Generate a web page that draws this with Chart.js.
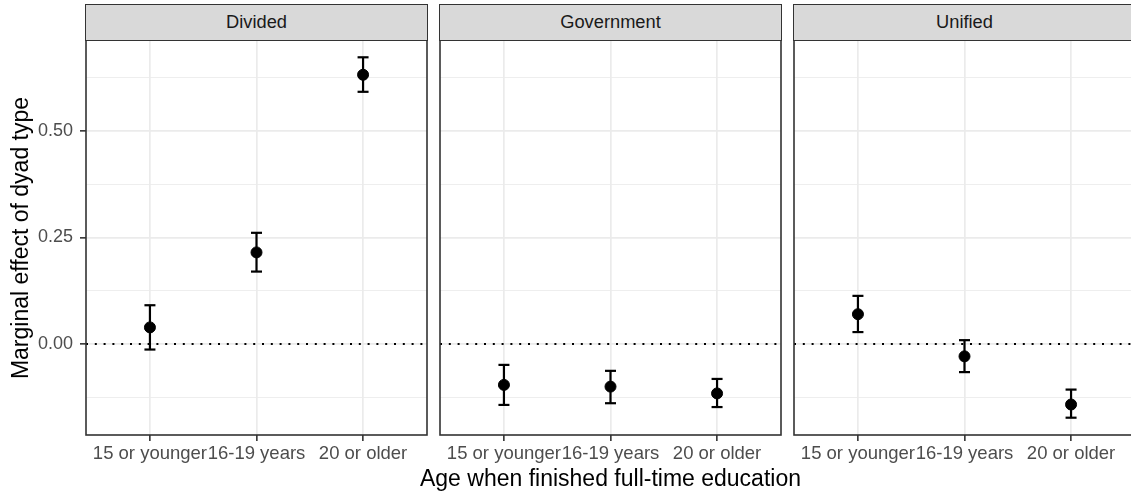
<!DOCTYPE html>
<html>
<head>
<meta charset="utf-8">
<title>Marginal effect of dyad type by education</title>
<script src="https://cdn.jsdelivr.net/npm/chart.js@4/dist/chart.umd.min.js"></script>
<style>
  html, body { margin: 0; padding: 0; background: #ffffff; overflow: hidden; }
  #fig { position: relative; width: 1131px; height: 493px; overflow: hidden; background: #ffffff;
         font-family: "Liberation Sans", Arial, Helvetica, sans-serif; }
  #fig canvas { position: absolute; }
  .strip { position: absolute; box-sizing: border-box; background: #D9D9D9; border: 1.6px solid #333333;
           color: #1A1A1A; font-size: 18.3px; text-align: center; }
  .axis-title { position: absolute; color: #000000; font-size: 23px; line-height: 26px;
                text-align: center; white-space: nowrap; }
</style>
</head>
<body>
<div id="fig"></div>
<script>
// ---- data ----------------------------------------------------------------
const categories = ['15 or younger', '16-19 years', '20 or older'];
const facets = ['Divided', 'Government', 'Unified'];

const dividedEst    = [0.039, 0.215, 0.632];
const dividedLow    = [-0.013, 0.170, 0.592];
const dividedHigh   = [0.091, 0.261, 0.673];

const governmentEst  = [-0.096, -0.100, -0.116];
const governmentLow  = [-0.143, -0.139, -0.148];
const governmentHigh = [-0.049, -0.063, -0.082];

const unifiedEst    = [0.070, -0.029, -0.142];
const unifiedLow    = [0.028, -0.066, -0.173];
const unifiedHigh   = [0.113, 0.009, -0.107];

const yGridValues  = [-0.125, 0, 0.125, 0.25, 0.375, 0.5, 0.625];
const yTickValues  = [0, 0.25, 0.5];
const yTickLabels  = ['0.00', '0.25', '0.50'];
const yLimits      = [-0.2136, 0.7136];
const referenceY   = [0];

const xTitle = 'Age when finished full-time education';
const yTitle = 'Marginal effect of dyad type';

// ---- layout ----------------------------------------------------------------
const FIG_H = 493;
const PANEL_LEFT = [86, 440, 794];
const PANEL_W = 341;
const PANEL_TOP = 40;
const PANEL_BOTTOM = 435;
const STRIP_TOP = 3.5;
const X_LIMITS = [0.4, 0.6 + categories.length];
const FONT = '"Liberation Sans", Arial, Helvetica, sans-serif';

const fig = document.getElementById('fig');

// panel frame drawn over everything, like a ggplot panel border
const panelBorder = {
  id: 'panelBorder',
  afterDraw(chart) {
    const { left, top, right, bottom } = chart.chartArea;
    const ctx = chart.ctx;
    ctx.save();
    ctx.strokeStyle = '#333333';
    ctx.lineWidth = 1.6;
    ctx.strokeRect(left, top, right - left, bottom - top);
    ctx.restore();
  }
};

const isLabelled = v => yTickValues.includes(v);

function errorBarData(low, high) {
  const pts = [];
  categories.forEach((c, k) => {
    pts.push({ x: k + 1, y: low[k] });
    pts.push({ x: k + 1, y: high[k] });
    pts.push({ x: k + 1.5, y: null });   // break between bars
  });
  return pts;
}

function makeFacet(i, est, low, high) {
  const first = i === 0;
  const left = PANEL_LEFT[i];
  const padL = first ? 0 : 2;
  const axisW = first ? left : 0;
  const canvasLeft = first ? 0 : left - 2;
  const cw = axisW + padL + PANEL_W + 2;
  const ch = FIG_H - PANEL_TOP;

  const canvas = document.createElement('canvas');
  canvas.width = cw;
  canvas.height = ch;
  canvas.style.left = canvasLeft + 'px';
  canvas.style.top = PANEL_TOP + 'px';
  canvas.style.width = cw + 'px';
  canvas.style.height = ch + 'px';
  fig.appendChild(canvas);

  // strip header
  const strip = document.createElement('div');
  strip.className = 'strip';
  strip.style.left = (left - 0.8) + 'px';
  strip.style.top = STRIP_TOP + 'px';
  strip.style.width = (PANEL_W + 1.6) + 'px';
  strip.style.height = (PANEL_TOP - STRIP_TOP + 0.8) + 'px';
  strip.style.lineHeight = (PANEL_TOP - STRIP_TOP - 2.4) + 'px';
  strip.textContent = facets[i];
  fig.appendChild(strip);

  new Chart(canvas, {
    type: 'scatter',
    data: {
      datasets: [
        {
          label: facets[i] + ' estimate',
          data: categories.map((c, k) => ({ x: k + 1, y: est[k] })),
          pointRadius: 5.5,
          pointBackgroundColor: '#000000',
          pointBorderColor: '#000000',
          pointBorderWidth: 1,
          order: 0
        },
        {
          label: facets[i] + ' interval',
          data: errorBarData(low, high),
          showLine: true,
          spanGaps: false,
          borderColor: '#000000',
          borderWidth: 2.2,
          pointStyle: 'line',
          pointRadius: 5.5,
          pointBorderColor: '#000000',
          pointBorderWidth: 2.2,
          order: 1
        },
        {
          label: 'reference',
          data: [{ x: X_LIMITS[0], y: referenceY[0] }, { x: X_LIMITS[1], y: referenceY[0] }],
          showLine: true,
          borderColor: '#000000',
          borderWidth: 2,
          borderDash: [2, 6.8],
          pointRadius: 0,
          order: 2
        }
      ]
    },
    options: {
      responsive: false,
      animation: false,
      events: [],
      layout: { autoPadding: false, padding: { left: padL, right: 2, top: 0, bottom: 0 } },
      plugins: { legend: { display: false }, tooltip: { enabled: false } },
      scales: {
        x: {
          type: 'linear',
          min: X_LIMITS[0],
          max: X_LIMITS[1],
          afterBuildTicks: axis => { axis.ticks = categories.map((c, k) => ({ value: k + 1 })); },
          afterFit: axis => {
            axis.height = ch - (PANEL_BOTTOM - PANEL_TOP);
            axis.paddingLeft = 0; axis.paddingRight = 0;
          },
          border: { display: false },
          grid: { color: '#EBEBEB', lineWidth: 1.7, drawTicks: true, tickLength: 6,
                  tickColor: '#333333', tickWidth: 1.6 },
          ticks: {
            autoSkip: false, maxRotation: 0, minRotation: 0, padding: 2,
            color: '#4D4D4D', font: { family: FONT, size: 18.5 },
            callback: (v, idx) => categories[idx]
          }
        },
        y: {
          type: 'linear',
          min: yLimits[0],
          max: yLimits[1],
          afterBuildTicks: axis => { axis.ticks = yGridValues.map(v => ({ value: v })); },
          afterFit: axis => {
            axis.width = axisW;
            axis.paddingTop = 0; axis.paddingBottom = 0;
          },
          border: { display: false },
          grid: {
            color: '#EBEBEB',
            lineWidth: c => (c.tick && isLabelled(c.tick.value)) ? 1.7 : 0.85,
            drawTicks: first,
            tickLength: 6,
            tickWidth: 1.6,
            tickColor: c => (c.tick && isLabelled(c.tick.value)) ? '#333333' : 'rgba(0,0,0,0)'
          },
          ticks: {
            display: first,
            padding: 7,
            color: '#4D4D4D',
            font: { family: FONT, size: 18 },
            callback: v => {
              const k = yTickValues.indexOf(v);
              return k >= 0 ? yTickLabels[k] : '';
            }
          }
        }
      }
    },
    plugins: [panelBorder]
  });
}

makeFacet(0, dividedEst, dividedLow, dividedHigh);
makeFacet(1, governmentEst, governmentLow, governmentHigh);
makeFacet(2, unifiedEst, unifiedLow, unifiedHigh);

// axis titles
const xt = document.createElement('div');
xt.className = 'axis-title';
const panelsCenter = (PANEL_LEFT[0] + PANEL_LEFT[2] + PANEL_W) / 2;
xt.style.width = '600px';
xt.style.left = (panelsCenter - 300) + 'px';
xt.style.top = '465px';
xt.textContent = xTitle;
fig.appendChild(xt);

const yt = document.createElement('div');
yt.className = 'axis-title';
yt.style.width = '420px';
yt.style.left = (20 - 210) + 'px';
yt.style.top = ((PANEL_TOP + PANEL_BOTTOM) / 2 - 13) + 'px';
yt.style.transform = 'rotate(-90deg)';
yt.textContent = yTitle;
fig.appendChild(yt);
</script>
</body>
</html>
